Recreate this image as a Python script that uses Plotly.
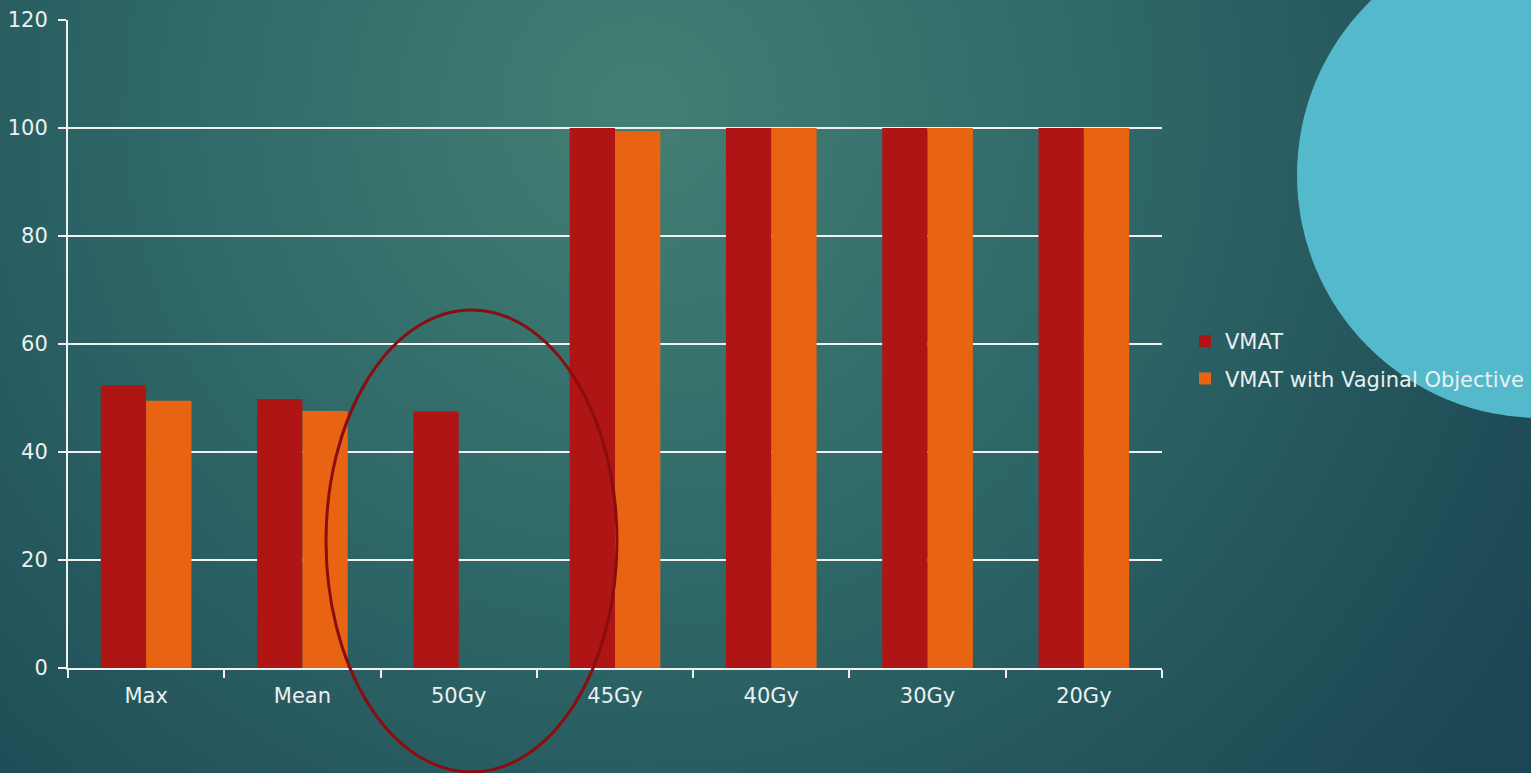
import base64
import plotly.graph_objects as go

categories = ["Max", "Mean", "50Gy", "45Gy", "40Gy", "30Gy", "20Gy"]
vmat = [52.4, 49.8, 47.5, 100, 100, 100, 100]
vmat_vag = [49.5, 47.6, 0, 99.4, 100, 100, 100]
series_names = ["VMAT", "VMAT with Vaginal Objective"]

W, H = 1531, 773
L, R, T, B = 68, 1162, 20, 668
pw, ph = R - L, B - T

def px(x):
    return (x - L) / pw

def py(y):
    return (B - y) / ph

svg = f'''<svg xmlns="http://www.w3.org/2000/svg" width="{W + 20}" height="{H + 20}" viewBox="-10 -10 {W + 20} {H + 20}">
<defs>
<radialGradient id="g" cx="640" cy="110" r="1050" gradientUnits="userSpaceOnUse">
<stop offset="0" stop-color="#437f74"/>
<stop offset="0.45" stop-color="#2f6868"/>
<stop offset="0.8" stop-color="#22525a"/>
<stop offset="1" stop-color="#1c4653"/>
</radialGradient>
</defs>
<rect x="-10" y="-10" width="{W + 20}" height="{H + 20}" fill="url(#g)"/>
<circle cx="1540" cy="175" r="243" fill="#55b9cc"/>
</svg>'''
uri = "data:image/svg+xml;base64," + base64.b64encode(svg.encode()).decode()

fig = go.Figure()
fig.add_trace(go.Bar(x=categories, y=vmat, name=series_names[0], legendgroup="a",
                     marker=dict(color="#af1515", line=dict(width=0))))
fig.add_trace(go.Bar(x=categories, y=vmat_vag, name=series_names[1], legendgroup="b",
                     marker=dict(color="#e96412", line=dict(width=0))))

font_family = "DejaVu Sans"
txt = "#eaf0f0"

fig.update_layout(
    width=W, height=H,
    margin=dict(l=L, r=W - R, t=T, b=H - B, pad=0, autoexpand=False),
    paper_bgcolor="#22525a",
    plot_bgcolor="rgba(0,0,0,0)",
    barmode="group", bargap=0.42, bargroupgap=0,
    font=dict(family=font_family, size=21, color=txt),
    showlegend=True,
    legend=dict(x=px(1185), y=py(321), xanchor="left", yanchor="top",
                bgcolor="rgba(0,0,0,0)", font=dict(size=21, color=txt),
                itemwidth=30, tracegroupgap=7, traceorder="grouped"),
    xaxis=dict(showgrid=False, showline=True, linecolor="#f0f0f0", linewidth=2,
               ticks="outside", tickson="boundaries", ticklen=8, tickcolor="#f0f0f0", tickwidth=2,
               ticklabelstandoff=8, tickfont=dict(size=21, color=txt), automargin=False),
    yaxis=dict(range=[0, 120], dtick=20, showgrid=True, gridcolor="#f0f0f0", gridwidth=1.5,
               showline=True, linecolor="#f0f0f0", linewidth=2, zeroline=False,
               ticks="outside", ticklen=8, tickcolor="#f0f0f0", tickwidth=2,
               ticklabelstandoff=6, tickfont=dict(size=21, color=txt), automargin=False),
    images=[dict(source=uri, xref="paper", yref="paper", x=px(-10), y=py(-10),
                 sizex=(W + 20) / pw, sizey=(H + 20) / ph, xanchor="left", yanchor="top",
                 sizing="stretch", layer="below")],
    shapes=[dict(type="circle", xref="paper", yref="paper",
                 x0=px(326), x1=px(617), y0=py(310), y1=py(772),
                 line=dict(color="#8a0e0e", width=3), layer="above")],
)

fig.write_html("out.html")
